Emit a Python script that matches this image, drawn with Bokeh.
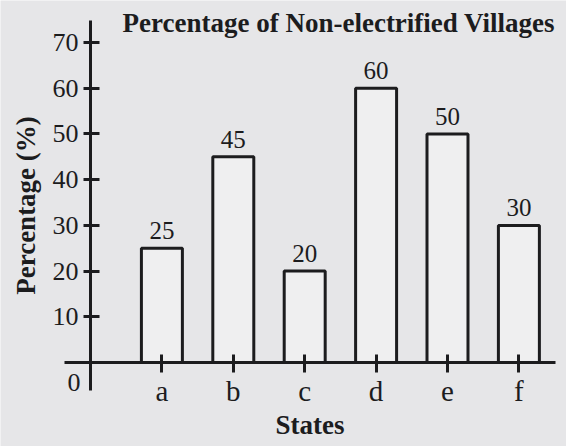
from bokeh.plotting import figure
from bokeh.models import Range1d, FixedTicker, Label, ColumnDataSource
from bokeh.core.properties import value
from bokeh.embed import file_html
from bokeh.resources import INLINE

states = ["a", "b", "c", "d", "e", "f"]
percent = [25, 45, 20, 60, 50, 30]
y_ticks = [10, 20, 30, 40, 50, 60, 70]
title_text = "Percentage of Non-electrified Villages"
x_title = "States"
y_title = "Percentage (%)"

BG = "#e6e6e8"
INK = "#1c1c1e"
FONT = "Liberation Serif"

xs = list(range(1, len(states) + 1))
src = ColumnDataSource(dict(x=xs, top=percent, lab=[str(v) for v in percent]))

p = figure(width=566, height=446, x_range=Range1d(-1.2605, 6.6667), y_range=Range1d(-18.38, 79.21),
           output_backend="svg", toolbar_location=None,
           min_border_left=0, min_border_right=0, min_border_top=0, min_border_bottom=0,
           background_fill_color=BG, border_fill_color=BG, outline_line_color=None)
p.grid.visible = False

p.vbar(x="x", top="top", bottom=0, width=0.574, source=src,
       fill_color="#efeff0", line_color=INK, line_width=3)
p.text(x="x", y="top", text="lab", source=src, y_offset=-9,
       text_align="center", text_baseline="bottom",
       text_font=value(FONT), text_font_size="25px", text_color=INK)

# Y axis
ya = p.yaxis[0]
ya.fixed_location = 0
ya.bounds = (-6.13, 74.84)
ya.ticker = FixedTicker(ticks=y_ticks)
ya.major_tick_in = 9
ya.major_tick_out = 7
ya.minor_tick_line_color = None
ya.axis_line_width = 3
ya.axis_line_color = INK
ya.major_tick_line_width = 3
ya.major_tick_line_color = INK
ya.major_label_text_font = FONT
ya.major_label_text_font_size = "26px"
ya.major_label_text_color = INK
ya.major_label_standoff = 5
ya.axis_label = y_title
ya.axis_label_text_font = FONT
ya.axis_label_text_font_style = "bold"
ya.axis_label_text_font_size = "27px"
ya.axis_label_text_color = INK
ya.axis_label_standoff = 9

# X axis
xa = p.xaxis[0]
xa.fixed_location = 0
xa.bounds = (-0.364, 6.51)
xa.ticker = FixedTicker(ticks=xs)
xa.major_label_overrides = {x: s for x, s in zip(xs, states)}
xa.major_tick_in = 8
xa.major_tick_out = 10
xa.minor_tick_line_color = None
xa.axis_line_width = 3
xa.axis_line_color = INK
xa.major_tick_line_width = 3
xa.major_tick_line_color = INK
xa.major_label_text_font = FONT
xa.major_label_text_font_size = "29px"
xa.major_label_text_color = INK
xa.major_label_standoff = 2
xa.axis_label = x_title
xa.axis_label_text_font = FONT
xa.axis_label_text_font_style = "bold"
xa.axis_label_text_font_size = "27px"
xa.axis_label_text_color = INK
xa.axis_label_standoff = 0

# origin label
p.text(x=[0], y=[0], text=["0"], x_offset=-10, y_offset=20, text_align="right", text_baseline="middle",
       text_font=value(FONT), text_font_size="26px", text_color=INK)

title = Label(x=122, y=424, x_units="screen", y_units="screen", text=title_text,
              text_font=FONT, text_font_style="bold", text_font_size="27px", text_color=INK,
              text_baseline="middle")
p.add_layout(title)

open("out.html", "w").write(file_html(p, INLINE))
